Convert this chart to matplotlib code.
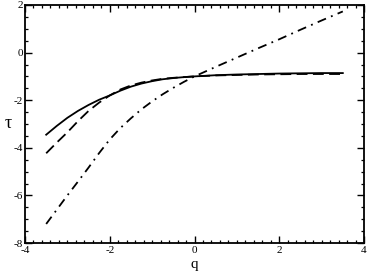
import matplotlib
matplotlib.use("Agg")
import matplotlib.pyplot as plt
from matplotlib.ticker import MultipleLocator

plt.rcParams['font.family'] = ['Liberation Serif', 'DejaVu Serif']
plt.rcParams['axes.unicode_minus'] = False

q = [-3.5, -3.25, -3.0, -2.75, -2.5, -2.25, -2.0, -1.75, -1.5, -1.25, -1.0, -0.75, -0.5, -0.25,
     0.0, 0.5, 1.0, 1.5, 2.0, 2.5, 3.0, 3.5]
tau_solid = [-3.45, -3.08, -2.74, -2.45, -2.2, -1.98, -1.8, -1.6, -1.43, -1.3, -1.2, -1.12, -1.07, -1.03,
             -1.0, -0.95, -0.92, -0.9, -0.88, -0.87, -0.86, -0.86]
tau_dashed = [-4.23, -3.78, -3.35, -2.88, -2.45, -2.1, -1.8, -1.55, -1.38, -1.26, -1.17, -1.1, -1.06, -1.03,
              -1.0, -0.96, -0.94, -0.92, -0.91, -0.9, -0.9, -0.9]
tau_dashdot = [-7.2, -6.6, -6.0, -5.42, -4.83, -4.22, -3.65, -3.17, -2.76, -2.38, -2.05, -1.75, -1.48, -1.23,
               -1.0, -0.6, -0.21, 0.18, 0.56, 0.96, 1.35, 1.73]

fig = plt.figure(figsize=(3.7, 2.72), dpi=100)
ax = fig.add_axes([25/370, 1-243/272, (364-25)/370, (243-5)/272])

ax.plot(q, tau_solid, color='black', lw=1.3, ls='-')
ax.plot(q, tau_dashed, color='black', lw=1.3, ls=(0, (6, 3)))
ax.plot(q, tau_dashdot, color='black', lw=1.3, ls=(0, (5, 3, 1, 3)))

ax.set_xlim(-4, 4)
ax.set_ylim(-8, 2)
ax.xaxis.set_major_locator(MultipleLocator(2))
ax.xaxis.set_minor_locator(MultipleLocator(0.2))
ax.yaxis.set_major_locator(MultipleLocator(2))
ax.yaxis.set_minor_locator(MultipleLocator(0.5))
ax.tick_params(which='both', direction='in', top=True, right=True, labelsize=8)
ax.tick_params(axis='x', pad=2)
ax.tick_params(axis='y', pad=1.5)
ax.tick_params(which='major', length=5, width=1)
ax.tick_params(which='minor', length=2.5, width=0.9)
for s in ax.spines.values():
    s.set_linewidth(1.3)

ax.set_xlabel('q', fontsize=11, va='center')
ax.xaxis.set_label_coords(0.5, -0.09)
ax.set_ylabel('τ', fontsize=13, rotation=0, labelpad=4, va='center')

fig.savefig('out.png', dpi=100)
